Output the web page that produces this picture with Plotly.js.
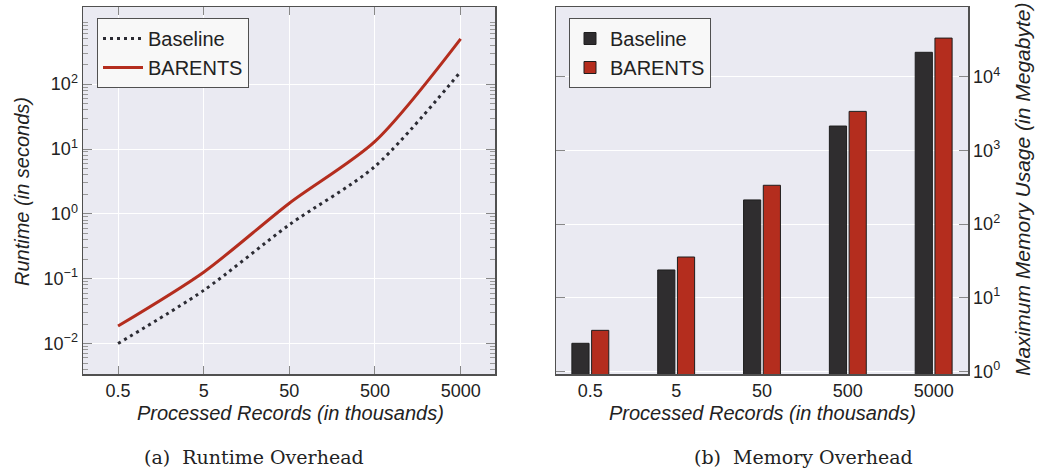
<!DOCTYPE html>
<html>
<head>
<meta charset="utf-8">
<script src="https://cdn.plot.ly/plotly-3.0.1.min.js"></script>
<style>
html,body{margin:0;padding:0;background:#fff;}
#chart{width:1037px;height:473px;}
</style>
</head>
<body>
<div id="chart"></div>
<script>
// ---- data ----
const records = [0.5, 5, 50, 500, 5000];          // thousands of records
const recordLabels = ['0.5', '5', '50', '500', '5000'];
const runtimeBaseline = [0.0100, 0.066, 0.68, 5.4, 156];   // seconds
const runtimeBarents  = [0.0186, 0.126, 1.46, 13.1, 500];  // seconds
const memoryBaseline  = [2.4, 23.8, 213, 2150, 21600];      // MB
const memoryBarents   = [3.6, 35.7, 337, 3400, 33700];      // MB
const runtimeExponents = [-2, -1, 0, 1, 2];
const memoryExponents  = [0, 1, 2, 3, 4];

const RED = '#b42d1e';
const DARK = '#2f2d2f';
const BG = '#eaeaf2';
const FRAME = '#505050';
const FONT = 'Liberation Sans, Arial, sans-serif';
const SERIF = 'DejaVu Serif, Liberation Serif, serif';
const W = 1037, H = 473;
const px = v => v / W;
const py = v => 1 - v / H;

const powVals = e => e.map(k => Math.pow(10, k));
const powText = e => e.map(k => '10<sup>' + String(k).replace('-', '\u2212') + '</sup>');
// minor ticks 2..9 in each decade of the runtime axis
const runtimeMinor = [];
for (let k = -3; k <= 3; k++) for (let m = 2; m <= 9; m++) runtimeMinor.push(m * Math.pow(10, k));

const traces = [
  {x: records, y: runtimeBaseline, type: 'scatter', mode: 'lines', name: 'Baseline',
   line: {color: '#2b2b33', width: 3, dash: '3px,4px', shape: 'spline', smoothing: 0.8},
   xaxis: 'x', yaxis: 'y', legend: 'legend'},
  {x: records, y: runtimeBarents, type: 'scatter', mode: 'lines', name: 'BARENTS',
   line: {color: RED, width: 3, shape: 'spline', smoothing: 0.8},
   xaxis: 'x', yaxis: 'y', legend: 'legend'},
  {x: recordLabels, y: memoryBaseline, type: 'bar', name: 'Baseline',
   marker: {color: DARK, line: {color: '#1e1e1e', width: 1}},
   width: 0.2, offset: -0.215, xaxis: 'x2', yaxis: 'y2', legend: 'legend2'},
  {x: recordLabels, y: memoryBarents, type: 'bar', name: 'BARENTS',
   marker: {color: RED, line: {color: '#1e1e1e', width: 1}},
   width: 0.2, offset: 0.015, xaxis: 'x2', yaxis: 'y2', legend: 'legend2'}
];

const tickFont = {family: FONT, size: 18, color: '#222'};
const legendCommon = {
  bgcolor: '#f8f8f8', bordercolor: FRAME, borderwidth: 1,
  font: {family: FONT, size: 20, color: '#222'},
  xanchor: 'left', yanchor: 'top', tracegroupgap: 0
};
const titleFont = {family: FONT, size: 20, color: '#222', style: 'italic'};

const layout = {
  width: W, height: H,
  margin: {l: 0, r: 0, t: 0, b: 0},
  paper_bgcolor: '#fff',
  showlegend: true,
  xaxis: {
    domain: [px(83), px(495)], anchor: 'y', type: 'log',
    range: [-0.71, 4.10],
    tickvals: records, ticktext: recordLabels,
    ticks: 'inside', ticklen: 8, tickcolor: '#888', tickwidth: 1,
    showline: true, linecolor: FRAME, linewidth: 1.5, mirror: 'ticks',
    showgrid: true, gridcolor: '#ffffff', gridwidth: 1,
    zeroline: false, tickfont: tickFont, automargin: false
  },
  yaxis: {
    domain: [py(374), py(7)], anchor: 'x', type: 'log',
    range: [-2.47, 3.19],
    tickvals: powVals(runtimeExponents), ticktext: powText(runtimeExponents),
    ticks: 'inside', ticklen: 9, tickcolor: '#888', tickwidth: 1,
    minor: {tickvals: runtimeMinor, ticks: 'inside', ticklen: 5, tickcolor: '#999', showgrid: false},
    showline: true, linecolor: FRAME, linewidth: 1.5, mirror: 'ticks',
    showgrid: true, gridcolor: '#ffffff', gridwidth: 1,
    zeroline: false, tickfont: tickFont, automargin: false
  },
  xaxis2: {
    domain: [px(556), px(968)], anchor: 'y2', type: 'category',
    range: [-0.4, 4.4], categoryorder: 'array', categoryarray: recordLabels,
    ticks: '', showline: true, linecolor: FRAME, linewidth: 1.5, mirror: true,
    showgrid: false, zeroline: false, tickfont: tickFont, automargin: false
  },
  yaxis2: {
    domain: [py(374), py(7)], anchor: 'x2', side: 'right', type: 'log',
    range: [-0.037, 4.95],
    tickvals: powVals(memoryExponents), ticktext: powText(memoryExponents),
    ticks: 'inside', ticklen: 9, tickcolor: '#888', tickwidth: 1,
    showline: true, linecolor: FRAME, linewidth: 1.5, mirror: 'ticks',
    showgrid: true, gridcolor: '#ffffff', gridwidth: 1,
    zeroline: false, tickfont: tickFont, automargin: false
  },
  plot_bgcolor: BG,
  legend: Object.assign({x: px(97), y: py(18), itemwidth: 40}, legendCommon),
  legend2: Object.assign({x: px(569), y: py(18), itemwidth: 30}, legendCommon),
  annotations: [
    {text: 'Processed Records (in thousands)', x: px(290), y: py(413), xref: 'paper', yref: 'paper',
     showarrow: false, xanchor: 'center', yanchor: 'middle', font: titleFont},
    {text: 'Processed Records (in thousands)', x: px(762), y: py(413), xref: 'paper', yref: 'paper',
     showarrow: false, xanchor: 'center', yanchor: 'middle', font: titleFont},
    {text: 'Runtime (in seconds)', x: px(22), y: py(192), xref: 'paper', yref: 'paper',
     showarrow: false, xanchor: 'center', yanchor: 'middle', textangle: -90, font: titleFont},
    {text: 'Maximum Memory Usage (in Megabyte)', x: px(1022), y: py(190), xref: 'paper', yref: 'paper',
     showarrow: false, xanchor: 'center', yanchor: 'middle', textangle: -90,
     font: Object.assign({}, titleFont, {size: 21})},
    {text: '(a)  Runtime Overhead', x: px(254), y: py(457), xref: 'paper', yref: 'paper',
     showarrow: false, xanchor: 'center', yanchor: 'middle',
     font: {family: SERIF, size: 19, color: '#222'}},
    {text: '(b)  Memory Overhead', x: px(803), y: py(457), xref: 'paper', yref: 'paper',
     showarrow: false, xanchor: 'center', yanchor: 'middle',
     font: {family: SERIF, size: 19, color: '#222'}}
  ]
};

Plotly.newPlot('chart', traces, layout, {staticPlot: true, displayModeBar: false});
</script>
</body>
</html>
